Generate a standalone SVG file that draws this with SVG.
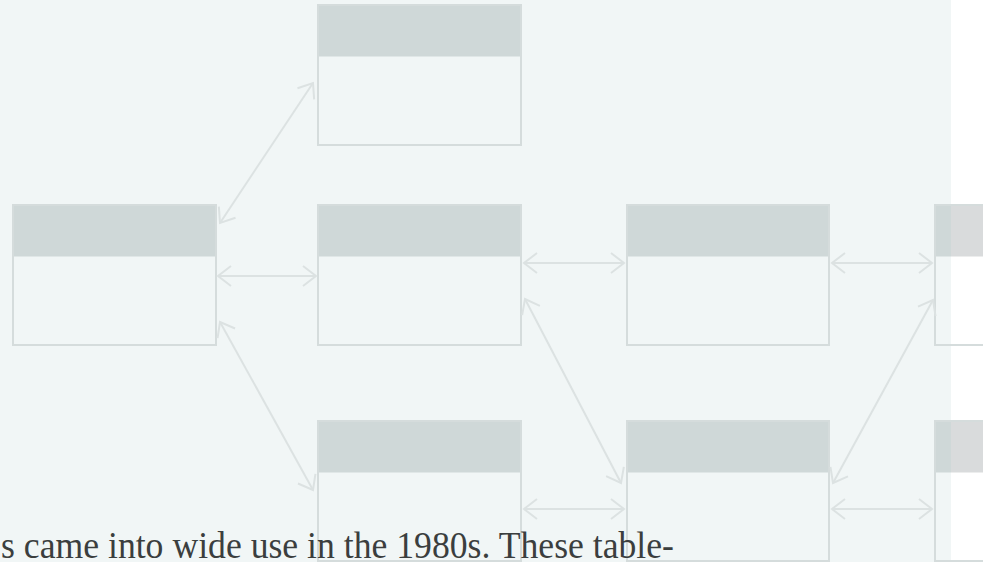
<svg xmlns="http://www.w3.org/2000/svg" width="983" height="562" viewBox="0 0 983 562">
<style>
.box{fill:none;stroke:#d5dcdc;stroke-width:2}
.hd{fill:#cfd8d8}
.hdo{fill:#d9dbdc}
.con{fill:none;stroke:#dce2e2;stroke-width:2;marker-start:url(#ah);marker-end:url(#ah)}
.txt{font-family:"Liberation Serif","Times New Roman",serif;font-size:38px;fill:#3b3e3e}
</style>
<defs>
<marker id="ah" markerUnits="userSpaceOnUse" markerWidth="20" markerHeight="24" viewBox="-15 -12 20 24" refX="0" refY="0" orient="auto-start-reverse" overflow="visible">
<path d="M-13,-10 L0,0 L-13,10" fill="none" stroke="#dce2e2" stroke-width="2"/>
</marker>
</defs>
<rect x="0" y="0" width="983" height="562" fill="#ffffff"/>
<rect x="0" y="0" width="951" height="562" fill="#f1f6f6"/>

<g id="node-a">
<rect class="hd" x="12" y="204" width="205" height="52.5"/>
<rect class="box" x="13" y="205" width="203" height="140"/>
</g>
<g id="node-b1">
<rect class="hd" x="317" y="4" width="205" height="52.5"/>
<rect class="box" x="318" y="5" width="203" height="140"/>
</g>
<g id="node-b2">
<rect class="hd" x="317" y="204" width="205" height="52.5"/>
<rect class="box" x="318" y="205" width="203" height="140"/>
</g>
<g id="node-b3">
<rect class="hd" x="317" y="420" width="205" height="52.5"/>
<rect class="box" x="318" y="421" width="203" height="140"/>
</g>
<g id="node-c2">
<rect class="hd" x="626" y="204" width="204" height="52.5"/>
<rect class="box" x="627" y="205" width="202" height="140"/>
</g>
<g id="node-c3">
<rect class="hd" x="626" y="420" width="204" height="52.5"/>
<rect class="box" x="627" y="421" width="202" height="140"/>
</g>
<g id="node-d2">
<rect x="951" y="256.5" width="40" height="88.5" fill="#ffffff"/>
<rect class="hd" x="934" y="204" width="17" height="52.5"/>
<rect class="hdo" x="951" y="204" width="40" height="52.5"/>
<rect class="box" x="935" y="205" width="203" height="140"/>
</g>
<g id="node-d3">
<rect x="951" y="472.5" width="40" height="88.5" fill="#ffffff"/>
<rect class="hd" x="934" y="420" width="17" height="52.5"/>
<rect class="hdo" x="951" y="420" width="40" height="52.5"/>
<rect class="box" x="935" y="421" width="203" height="140"/>
</g>

<g id="connectors">
<line class="con" x1="220" y1="223" x2="313" y2="83"/>
<line class="con" x1="218" y1="276" x2="316" y2="276"/>
<line class="con" x1="220" y1="322" x2="313" y2="490"/>
<line class="con" x1="524" y1="263" x2="624" y2="263"/>
<line class="con" x1="832" y1="263" x2="932" y2="263"/>
<line class="con" x1="525" y1="299" x2="621" y2="483"/>
<line class="con" x1="524" y1="509" x2="624" y2="509"/>
<line class="con" x1="833" y1="483" x2="933" y2="300"/>
<line class="con" x1="832" y1="509" x2="932" y2="509"/>
</g>

<text class="txt" x="1" y="558" textLength="673" lengthAdjust="spacingAndGlyphs">s came into wide use in the 1980s. These table-</text>
</svg>
